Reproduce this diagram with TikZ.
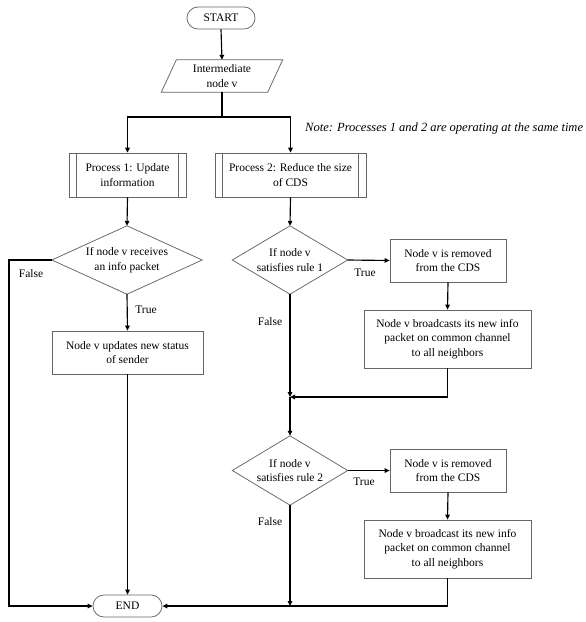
\documentclass[tikz,border=0pt]{standalone}
\usepackage{fontspec}
\setmainfont{Liberation Serif}
\usetikzlibrary{arrows.meta}
\begin{document}
\begin{tikzpicture}[x=1pt,y=-1pt,
  every node/.style={font=\fontsize{11.5}{14.5}\selectfont, text=black, align=center, inner sep=0pt},
  shp/.style={draw=black!60, line width=0.75pt, fill=white},
  box/.style={shp, rectangle, minimum width=#1},
  dia/.style={shp, line join=miter},
  conn/.style={draw=black, line width=1.15pt, -{Triangle[length=5pt,width=4.5pt]}},
  plain/.style={draw=black, line width=1.15pt},
  bold/.style={draw=black, line width=1.7pt},
  lbl/.style={font=\fontsize{11.5}{14.5}\selectfont}
]
\useasboundingbox (0,0) rectangle (586,622);

% terminals
\node[shp, rounded corners=11pt, minimum width=68pt, minimum height=22pt] (start) at (221,18) {START};
\node[shp, rounded corners=11pt, minimum width=69pt, minimum height=22pt] (end) at (127.5,606) {END};

% parallelogram
\node[minimum width=106pt, minimum height=32pt] (para) at (222,76) {};
\draw[shp] ([xshift=-7.5pt]para.south west) -- ([xshift=7.5pt]para.north west) -- ([xshift=7.5pt]para.north east) -- ([xshift=-7.5pt]para.south east) -- cycle;
\node at (para) {Intermediate\\node v};

% process boxes
\node[box=117pt, minimum height=44pt] (p1) at (127.5,175) {Process 1: Update\\information};
\draw[shp] ([xshift=8pt]p1.north west) -- ([xshift=8pt]p1.south west);
\draw[shp] ([xshift=-8pt]p1.north east) -- ([xshift=-8pt]p1.south east);
\node[box=151pt, minimum height=44pt] (p2) at (290.5,175) {Process 2: Reduce the size\\of CDS};
\draw[shp] ([xshift=8pt]p2.north west) -- ([xshift=8pt]p2.south west);
\draw[shp] ([xshift=-8pt]p2.north east) -- ([xshift=-8pt]p2.south east);

% diamonds (outline nodes)
\node[minimum width=150pt, minimum height=68pt] (d1) at (127,260) {};
\draw[dia] (d1.north) -- (d1.east) -- (d1.south) -- (d1.west) -- cycle;
\node at (d1) {If node v receives\\an info packet};
\node[minimum width=115pt, minimum height=68pt] (d2) at (290,260) {};
\draw[dia] (d2.north) -- (d2.east) -- (d2.south) -- (d2.west) -- cycle;
\node at (d2) {If node v\\satisfies rule 1};
\node[minimum width=115pt, minimum height=69pt] (d3) at (290,470.5) {};
\draw[dia] (d3.north) -- (d3.east) -- (d3.south) -- (d3.west) -- cycle;
\node at (d3) {If node v\\satisfies rule 2};

% action boxes
\node[box=151pt, minimum height=43pt] (u) at (127.5,352.5) {Node v updates new status\\of sender};
\node[box=116pt, minimum height=43pt] (r1) at (448,260.5) {Node v is removed\\from the CDS};
\node[box=167pt, minimum height=58pt] (b1) at (447.5,339) {Node v broadcasts its new info\\packet on common channel\\to all neighbors};
\node[box=116pt, minimum height=43pt] (r2) at (448,470.5) {Node v is removed\\from the CDS};
\node[box=167pt, minimum height=58pt] (b2) at (447.5,549) {Node v broadcast its new info\\packet on common channel\\to all neighbors};

% note
\node[anchor=west, font=\itshape\fontsize{12.5}{15}\selectfont] (note) at (305,128) {Note: Processes 1 and 2 are operating at the same time};

% helper coordinates
\coordinate (br) at (222,117);
\coordinate (lf) at (9,260);
\coordinate (mg) at (290,397);
\coordinate (mg2) at (290,606);

% connectors
\draw[conn] (start.south) -- (para.north);
\draw[bold] (para.south) -- (br);
\draw[bold, -{Triangle[length=5pt,width=4.5pt]}] (br) -| (p1.north);
\draw[bold, -{Triangle[length=5pt,width=4.5pt]}] (br) -| (p2.north);
\draw[conn] (p1.south) -- (d1.north);
\draw[conn] (p2.south) -- (d2.north);
\draw[conn] (d1.south) -- (u.north);
\draw[conn] (u.south) -- (end.north);
\draw[conn] (d1.west) -- (lf) |- (end.west);
\draw[conn] (d2.east) -- (r1.west);
\draw[conn] (r1.south) -- (b1.north);
\draw[conn] (d2.south) -- (mg);
\draw[conn] (b1.south) |- (mg);
\draw[conn] (mg) -- (d3.north);
\draw[conn] (d3.east) -- (r2.west);
\draw[conn] (r2.south) -- (b2.north);
\draw[conn] (d3.south) -- (mg2);
\draw[conn] (b2.south) |- (end.east);

% labels
\node[lbl] (lf1) at (31,274) {False};
\node[lbl] (lt1) at (146,310) {True};
\node[lbl] (lt2) at (365,273) {True};
\node[lbl] (lf2) at (270,322) {False};
\node[lbl] (lt3) at (364,482) {True};
\node[lbl] (lf3) at (270,522) {False};
\end{tikzpicture}
\end{document}
